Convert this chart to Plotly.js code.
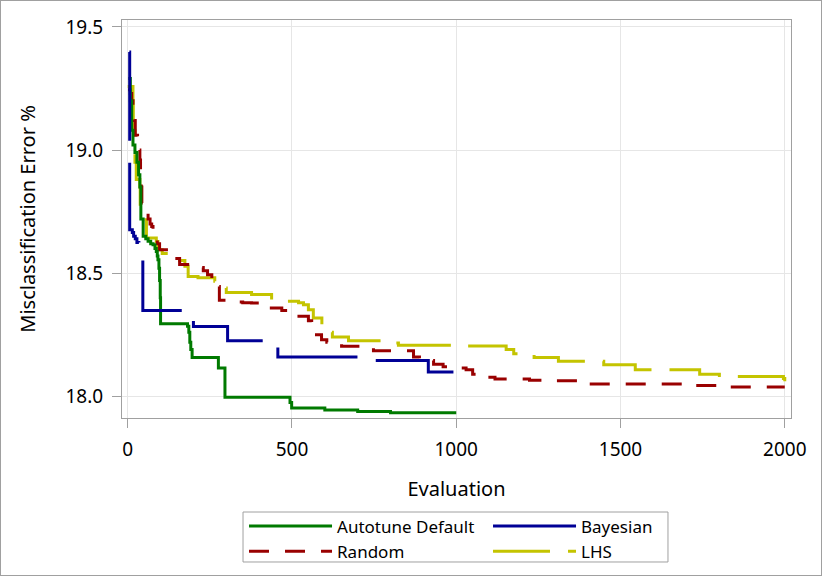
<!DOCTYPE html>
<html>
<head>
<meta charset="utf-8">
<script src="https://cdn.plot.ly/plotly-3.0.1.min.js"></script>
<style>
  body { margin: 0; background: #fff; }
  #chart { width: 820px; height: 574px; border: 1px solid #a0a0a0; }
</style>
</head>
<body>
<div id="chart"></div>
<script>
// best misclassification error so far (step curves)
let autoX = [2, 8, 12, 16, 22, 28, 33, 37, 40, 47, 55, 62, 70, 77, 83, 87, 90, 92, 95, 97, 99, 100,
             182, 186, 189, 192, 196, 276, 296, 494, 499, 600, 700, 800, 1000];
let autoY = [19.29, 19.2, 19.08, 19.02, 18.99, 18.95, 18.9, 18.85, 18.72, 18.65, 18.64, 18.63, 18.62, 18.615, 18.6, 18.588, 18.57, 18.555, 18.52, 18.47, 18.4, 18.295,
             18.285, 18.26, 18.22, 18.19, 18.158, 18.115, 17.996, 17.975, 17.953, 17.944, 17.938, 17.933, 17.933];

let bayesX = [5, 6, 14, 18, 23, 28, 34, 46, 200, 304, 457, 712, 915, 1000];
let bayesY = [19.398, 18.676, 18.665, 18.65, 18.64, 18.625, 18.61, 18.348, 18.284, 18.226, 18.16, 18.145, 18.099, 18.099];

let randX = [1, 8, 12, 16, 20, 23, 30, 37, 39, 41, 43, 55, 62, 68, 73, 77, 90, 97, 125, 140, 158, 202, 230, 243, 256,
             279, 327, 350, 377, 400, 421, 469, 490, 512, 550, 560, 570, 590, 606, 651, 748, 870, 888, 931, 960, 981,
             1030, 1050, 1073, 1118, 1223, 1300, 1382, 1712, 1822, 2000];
let randY = [19.245, 19.23, 19.2, 19.15, 19.12, 19.06, 19.0, 18.96, 18.92, 18.85, 18.785, 18.75, 18.72, 18.7, 18.69, 18.68, 18.62, 18.595, 18.585, 18.56, 18.535, 18.523, 18.51, 18.494, 18.446,
             18.39, 18.383, 18.38, 18.379, 18.37, 18.359, 18.348, 18.34, 18.325, 18.307, 18.28, 18.25, 18.23, 18.22, 18.203, 18.185, 18.16, 18.145, 18.13, 18.12, 18.115,
             18.108, 18.09, 18.077, 18.07, 18.065, 18.063, 18.05, 18.044, 18.038, 18.038];

let lhsX = [0, 16, 17, 22, 26, 37, 38, 50, 57, 87, 92, 105, 130, 158, 174, 184, 214, 265, 285, 300, 377, 438,
            520, 535, 550, 565, 591, 608, 623, 672, 773, 824, 990, 1152, 1175, 1237, 1311, 1449, 1545, 1741, 1801, 1856, 1996, 2000];
let lhsY = [19.258, 19.2, 19.08, 18.95, 18.88, 18.85, 18.78, 18.717, 18.643, 18.629, 18.595, 18.58, 18.565, 18.552, 18.528, 18.487, 18.481, 18.467, 18.44, 18.422, 18.413, 18.386,
            18.38, 18.372, 18.352, 18.318, 18.287, 18.26, 18.241, 18.226, 18.217, 18.207, 18.204, 18.19, 18.173, 18.158, 18.142, 18.128, 18.108, 18.09, 18.085, 18.081, 18.072, 18.061];

let names = ["Autotune Default", "Bayesian", "Random", "LHS"];
let colors = ["#007A00", "#000096", "#990000", "#C4C400"];
let dashes = ["solid", "89px,22px", "20px,16px", "57px,18px"];

let xs = [autoX, bayesX, randX, lhsX];
let ys = [autoY, bayesY, randY, lhsY];

// draw order: LHS and Random underneath
let order = [3, 2, 0, 1];
let traces = [];
for (let k = 0; k < order.length; k++) {
    let i = order[k];
    traces.push({
        x: xs[i],
        y: ys[i],
        name: names[i],
        type: "scatter",
        mode: "lines",
        line: {color: colors[i], width: 3, dash: dashes[i], shape: "hv"},
        legendrank: i + 1
    });
}

let font = "Noto Sans, Open Sans, DejaVu Sans, sans-serif";

let layout = {
    width: 820,
    height: 574,
    margin: {l: 121, r: 30, t: 19, b: 157, autoexpand: false},
    paper_bgcolor: "#fff",
    plot_bgcolor: "#fff",
    font: {family: font, color: "#000"},
    showlegend: true,
    xaxis: {
        range: [-17.4, 2019],
        tickvals: [0, 500, 1000, 1500, 2000],
        ticks: "outside",
        ticklen: 9,
        tickcolor: "#a0a0a0",
        tickfont: {size: 19},
        ticklabelstandoff: 5,
        showgrid: true,
        gridcolor: "#e6e6e6",
        zeroline: false,
        showline: true,
        linecolor: "#a0a0a0",
        mirror: true,
        title: {text: "Evaluation", font: {size: 20}, standoff: 21}
    },
    yaxis: {
        range: [17.912, 19.528],
        tickvals: [18.0, 18.5, 19.0, 19.5],
        tickformat: ".1f",
        ticks: "outside",
        ticklen: 9,
        tickcolor: "#a0a0a0",
        tickfont: {size: 19},
        ticklabelstandoff: 5,
        showgrid: true,
        gridcolor: "#e6e6e6",
        zeroline: false,
        showline: true,
        linecolor: "#a0a0a0",
        mirror: true,
        title: {text: "Misclassification Error %", font: {size: 20}, standoff: 24}
    },
    legend: {
        orientation: "h",
        x: 0.1824,
        xanchor: "left",
        y: -0.2274,
        yanchor: "top",
        borderwidth: 0,
        bgcolor: "rgba(0,0,0,0)",
        font: {size: 17},
        itemwidth: 83,
        entrywidth: 146,
        traceorder: "normal"
    },
    // legend frame
    shapes: [{
        type: "rect", xref: "paper", yref: "paper",
        x0: 0.1809, x1: 0.8161, y0: -0.3618, y1: -0.2362,
        line: {color: "#a0a0a0", width: 1}
    }]
};

Plotly.newPlot("chart", traces, layout, {displayModeBar: false, staticPlot: true});
</script>
</body>
</html>
